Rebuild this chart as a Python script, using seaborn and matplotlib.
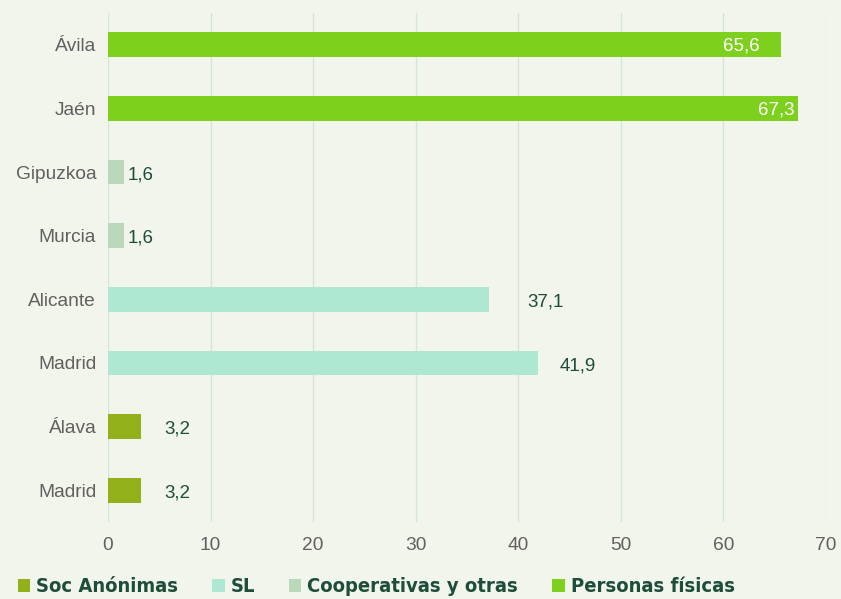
"""Distribución por forma jurídica: provincias con mayor peso"""
import matplotlib
matplotlib.use("Agg")
from matplotlib import pyplot as plt
from matplotlib.patches import Patch
from pandas import DataFrame
import seaborn as sns

provincias = ["Ávila", "Jaén", "Gipuzkoa", "Murcia", "Alicante", "Madrid", "Álava", "Madrid"]
valores = [65.6, 67.3, 1.6, 1.6, 37.1, 41.9, 3.2, 3.2]
tipos = ["Personas físicas", "Personas físicas", "Cooperativas y otras", "Cooperativas y otras",
         "SL", "SL", "Soc Anónimas", "Soc Anónimas"]
leyenda = ["Soc Anónimas", "SL", "Cooperativas y otras", "Personas físicas"]

colores = {
    "Soc Anónimas": "#91B01A",
    "SL": "#AEE8D3",
    "Cooperativas y otras": "#BAD9BB",
    "Personas físicas": "#7ED01F",
}
fondo = "#F2F5EC"
verde_oscuro = "#1E4D3B"

sns.set_theme(style="white")
plt.rcParams["font.family"] = ["Liberation Sans", "DejaVu Sans"]

df = DataFrame({"fila": [str(i) for i in range(len(provincias))],
                "valor": valores, "tipo": tipos})

fig = plt.figure(figsize=(8.41, 5.99), dpi=100, facecolor=fondo)
ax = fig.add_axes([108 / 841, 1 - 522 / 599, 718 / 841, 509 / 599])
ax.set_facecolor(fondo)

sns.barplot(data=df, x="valor", y="fila", hue="tipo", palette=colores, dodge=False,
            width=0.39, orient="h", legend=False, ax=ax, saturation=1, linewidth=0)

ax.set_xlim(0, 70)
ax.set_ylim(7.5, -0.5)
ax.set_xticks(range(0, 71, 10))
ax.set_yticks(range(len(provincias)))
ax.set_yticklabels(provincias)
ax.set_xlabel("")
ax.set_ylabel("")
ax.tick_params(axis="both", length=0, labelsize=13.8, labelcolor="#606060")
ax.tick_params(axis="x", pad=11)
ax.tick_params(axis="y", pad=8.5)
ax.grid(axis="x", color="#D3E6D3", linewidth=1)
ax.set_axisbelow(True)
for s in ax.spines.values():
    s.set_visible(False)

# etiquetas de valor
desplaz = [-15, -3, 2, 2, 28, 16, 17, 17]
for i, v in enumerate(valores):
    txt = f"{v:.1f}".replace(".", ",")
    dentro = desplaz[i] < 0
    ax.annotate(txt, (v, i), xytext=(desplaz[i], -1 if dentro else -2),
                textcoords="offset points", va="center",
                ha="right" if dentro else "left", fontsize=13.5,
                color="white" if dentro else verde_oscuro)

handles = [Patch(facecolor=colores[t], edgecolor="none") for t in leyenda]
fig.legend(handles, leyenda, loc="lower left", bbox_to_anchor=(0.0, -0.026), ncol=4,
           frameon=False, handlelength=0.6, handleheight=0.6, handletextpad=0.3,
           columnspacing=1.7,
           prop={"family": "DejaVu Sans", "stretch": "condensed", "weight": "bold", "size": 14.5},
           labelcolor=verde_oscuro)

plt.savefig("out.png", dpi=100, facecolor=fondo)
